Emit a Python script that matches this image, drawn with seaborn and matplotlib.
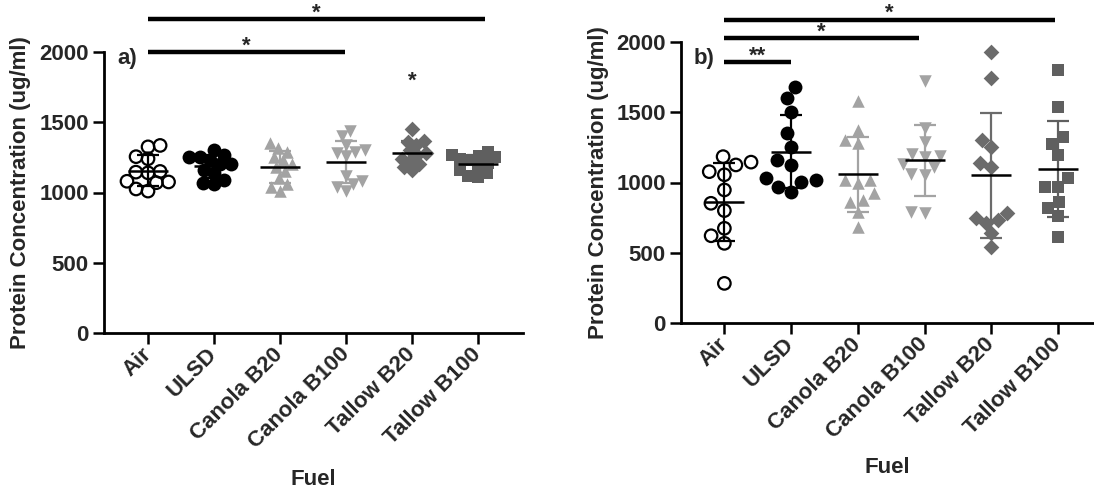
import numpy as np
import pandas as pd
import matplotlib
matplotlib.use("Agg")
import matplotlib.pyplot as plt
from matplotlib.collections import PathCollection
import seaborn as sns

sns.set_style("ticks")
plt.rcParams['font.family'] = ['Liberation Sans', 'DejaVu Sans']
plt.rcParams['font.weight'] = 'bold'

categories = ["Air", "ULSD", "Canola B20", "Canola B100", "Tallow B20", "Tallow B100"]

# Panel a) protein concentration (ug/ml)
a_air = [1335, 1325, 1255, 1240, 1150, 1145, 1140, 1080, 1075, 1070, 1025, 1010]
a_ulsd = [1300, 1270, 1255, 1250, 1230, 1205, 1200, 1160, 1140, 1090, 1070, 1060]
a_canola_b20 = [1350, 1320, 1290, 1250, 1230, 1200, 1180, 1150, 1100, 1060, 1040, 1010]
a_canola_b100 = [1440, 1400, 1340, 1300, 1290, 1280, 1260, 1120, 1080, 1060, 1040, 1010]
a_tallow_b20 = [1450, 1370, 1360, 1340, 1300, 1280, 1270, 1240, 1230, 1200, 1180, 1160]
a_tallow_b100 = [1290, 1270, 1260, 1250, 1240, 1230, 1210, 1190, 1160, 1140, 1120, 1110]

# Panel b)
b_air = [1184, 1145, 1125, 1077, 1055, 947, 852, 800, 674, 621, 567, 282]
b_ulsd = [1682, 1599, 1504, 1350, 1255, 1160, 1125, 1030, 1018, 1006, 970, 934]
b_canola_b20 = [1580, 1374, 1302, 1279, 1018, 1018, 994, 923, 875, 863, 792, 685]
b_canola_b100 = [1720, 1390, 1290, 1200, 1190, 1180, 1130, 1110, 1060, 1050, 790, 780]
b_tallow_b20 = [1926, 1741, 1302, 1255, 1137, 1112, 781, 745, 733, 710, 638, 543]
b_tallow_b100 = [1801, 1539, 1321, 1274, 1196, 1030, 970, 970, 863, 816, 762, 610]

panel_a = [a_air, a_ulsd, a_canola_b20, a_canola_b100, a_tallow_b20, a_tallow_b100]
panel_b = [b_air, b_ulsd, b_canola_b20, b_canola_b100, b_tallow_b20, b_tallow_b100]

# significance annotations: (x_start, x_end, level, text)
a_brackets = [(0, 5.1, 2235, "*"), (0, 2.98, 2000, "*")]
a_singles = [(4, 1836, "*")]
b_brackets = [(0, 4.95, 2160, "*"), (0, 2.92, 2030, "*"), (0, 1.0, 1856, "**")]

marker_styles = ["o", "o", "^", "v", "D", "s"]
marker_colors = ["black", "black", "#a3a3a3", "#a3a3a3", "#6b6b6b", "#5f5f5f"]
marker_sizes = [9, 10, 9, 9, 8, 9]

W, H = 1094, 496
fig = plt.figure(figsize=(W / 100, H / 100), dpi=100)
ax_a = fig.add_axes([104 / W, 1 - 333 / H, (523 - 104) / W, 281 / H])
ax_b = fig.add_axes([681 / W, 1 - 323 / H, (1094 - 681) / W, 281 / H])

swarms = []  # (collection, final marker size)


def draw_panel(ax, data, xlim, pack):
    for i, (cat, vals) in enumerate(zip(categories, data)):
        n_before = len(ax.collections)
        sns.swarmplot(x=[cat] * len(vals), y=vals, order=categories, ax=ax,
                      color=marker_colors[i], marker=marker_styles[i],
                      size=marker_sizes[i] * pack, zorder=2, warn_thresh=1.0)
        for coll in ax.collections[n_before:]:
            if isinstance(coll, PathCollection) and len(coll.get_offsets()) > 0:
                swarms.append((coll, marker_sizes[i]))
                if i == 0:
                    coll.set_facecolor("none")
                    coll.set_edgecolor("black")
                    coll.set_linewidth(1.6)
        arr = np.asarray(vals, dtype=float)
        m, sd = arr.mean(), arr.std(ddof=1)
        ax.errorbar(i, m, yerr=sd, color=marker_colors[i] if i > 1 else "black",
                    capsize=8, elinewidth=1.6, capthick=1.6, zorder=3)
        ax.hlines(m, i - 0.3, i + 0.3, color="black", lw=1.8, zorder=4)
    ax.set_xlim(*xlim)
    ax.set_ylim(0, 2000)
    ax.set_yticks([0, 500, 1000, 1500, 2000])
    ax.set_xticks(range(len(categories)))
    ax.set_xticklabels(categories, rotation=45, ha="right", va="center",
                       rotation_mode="anchor", fontsize=16, fontweight="bold")
    for lab in ax.get_yticklabels():
        lab.set_fontsize(16)
        lab.set_fontweight("bold")
    ax.tick_params(axis="both", length=8, width=1.8, pad=3, color="black")
    ax.tick_params(axis="x", pad=5)
    for s in ["top", "right"]:
        ax.spines[s].set_visible(False)
    for s in ["left", "bottom"]:
        ax.spines[s].set_linewidth(2.0)
        ax.spines[s].set_color("black")
    ax.set_ylabel("Protein Concentration (ug/ml)", fontsize=16, fontweight="bold")
    ax.set_xlabel("Fuel", fontsize=16, fontweight="bold")


def star(ax, x, y, txt):
    ax.text(x, y - 85, txt, ha="center", va="baseline", fontsize=16,
            fontweight="bold", clip_on=False)


def bracket(ax, x0, x1, y, txt):
    ax.plot([x0, x1], [y, y], color="black", lw=3.2, clip_on=False,
            solid_capstyle="butt", zorder=5)
    star(ax, (x0 + x1) / 2, y + 28 + 60, txt)


draw_panel(ax_a, panel_a, (-0.667, 5.68), 0.75)
draw_panel(ax_b, panel_b, (-0.65, 5.54), 1.0)

for x0, x1, y, t in a_brackets:
    bracket(ax_a, x0, x1, y, t)
for x, y, t in a_singles:
    star(ax_a, x, y, t)
for x0, x1, y, t in b_brackets:
    bracket(ax_b, x0, x1, y, t)

ax_a.text(-0.32, 1957, "a)", ha="center", va="center", fontsize=16, fontweight="bold")
ax_b.text(-0.3, 1884, "b)", ha="center", va="center", fontsize=16, fontweight="bold")

ax_a.yaxis.set_label_coords(-0.174, 0.5)
ax_b.yaxis.set_label_coords(-0.174, 0.5)
ax_a.xaxis.set_label_coords(0.5, -0.484)
ax_b.xaxis.set_label_coords(0.5, -0.477)

# lay out the swarms once, then freeze positions and restore full marker size
fig.canvas.draw()
for coll, size in swarms:
    if "draw" in coll.__dict__:
        del coll.draw
    coll.set_sizes([size ** 2])

fig.savefig("out.png", dpi=100)
